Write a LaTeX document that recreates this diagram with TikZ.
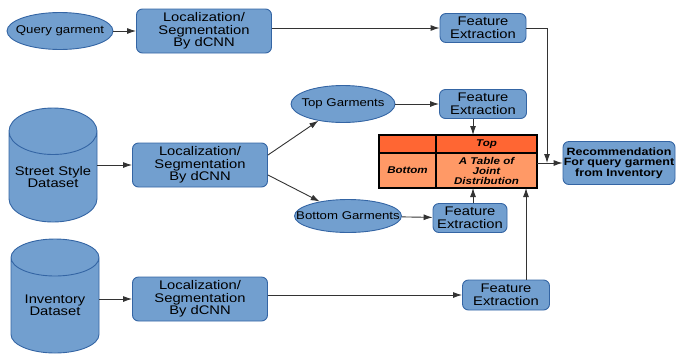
\documentclass[tikz,border=0pt]{standalone}
\usepackage{fontspec}
\setmainfont{Liberation Sans}[FakeStretch=1.18]
\definecolor{box_fill}{HTML}{729FCF}
\definecolor{box_line}{HTML}{3465A4}
\definecolor{tab_top}{HTML}{FF6633}
\definecolor{tab_low}{HTML}{FF9966}
\usetikzlibrary{arrows.meta, shapes.geometric}

\begin{document}
\begin{tikzpicture}[x=1pt, y=-1pt,
        blk/.style={rectangle, rounded corners=6pt, draw=box_line, fill=box_fill,
                    line width=0.9pt, inner sep=0pt, align=center,
                    font=\fontsize{12.5}{12.5}\selectfont},
        oval/.style={ellipse, draw=box_line, fill=box_fill, line width=0.9pt,
                     inner ysep=0pt, font=\fontsize{11.2}{12}\selectfont},
        db/.style={cylinder, shape border rotate=90, aspect=0.61, draw=box_line,
                   fill=box_fill, line width=0.9pt, inner sep=0pt, align=center,
                   minimum width=88pt, minimum height=114pt, anchor=shape center,
                   font=\fontsize{12.5}{12.5}\selectfont},
        cell/.style={rectangle, draw=black, line width=1.1pt, inner sep=0pt,
                     outer sep=0pt, align=center,
                     font=\fontsize{9.8}{10}\selectfont\bfseries\itshape},
        arr/.style={-{Latex[length=9pt, width=6pt]}, line width=0.9pt, black!80},
      ]
        \useasboundingbox (0,0) rectangle (676,354);

        % Query branch
        \node[oval, inner xsep=-7pt, minimum width=106pt, minimum height=37pt] (query) at (60,31)
          {Query garment};
        \node[blk, minimum width=135pt, minimum height=44pt] (loc1) at (204,31)
          {Localization/\\Segmentation\\By dCNN};
        \node[blk, minimum width=86pt, minimum height=29pt] (fe1) at (483,28)
          {Feature\\Extraction};

        % Street style branch
        \node[db] (street) at (53,165) {Street Style\\Dataset};
        \node[blk, minimum width=135pt, minimum height=44pt] (loc2) at (200,165)
          {Localization/\\Segmentation\\By dCNN};
        \node[oval, inner xsep=-6pt, minimum width=104pt, minimum height=37pt] (topg) at (343,104)
          {Top Garments};
        \node[oval, inner xsep=-16pt, minimum width=107pt, minimum height=33pt] (botg) at (348,216)
          {Bottom Garments};
        \node[blk, minimum width=87pt, minimum height=29pt] (fe2) at (483,104)
          {Feature\\Extraction};
        \node[blk, minimum width=74pt, minimum height=29pt] (fe3) at (470,218)
          {Feature\\Extraction};

        % Inventory branch
        \node[db] (inv) at (55,296) {Inventory\\Dataset};
        \node[blk, minimum width=135pt, minimum height=44pt] (loc3) at (200,299)
          {Localization/\\Segmentation\\By dCNN};
        \node[blk, minimum width=87pt, minimum height=30pt] (fe4) at (506,295)
          {Feature\\Extraction};

        % Joint distribution table
        \node[cell, fill=tab_top, minimum width=57pt, minimum height=18pt] (c11) at (407.5,144) {};
        \node[cell, fill=tab_top, minimum width=101pt, minimum height=18pt] (c12) at (486.5,144) {Top};
        \node[cell, fill=tab_low, minimum width=57pt, minimum height=35pt] (c21) at (407.5,170.5) {Bottom};
        \node[cell, fill=tab_low, minimum width=101pt, minimum height=35pt] (c22) at (486.5,170.5)
          {A Table of\\Joint\\Distribution};

        \node[blk, minimum width=112pt, minimum height=43pt,
              font=\fontsize{10.6}{10.7}\selectfont\bfseries] (rec) at (619,163)
          {Recommendation\\For query garment\\from Inventory};
        \coordinate (join) at (547,163);

        \draw[arr] (query) -- (loc1);
        \draw[arr] (loc1.east |- fe1) -- (fe1);
        \draw[arr] (street.east |- loc2) -- (loc2);
        \draw[arr] ([yshift=10pt]loc2.east) -- (topg);
        \draw[arr] ([yshift=-10pt]loc2.east) -- (botg);
        \draw[arr] (topg) -- (fe2);
        \draw[arr] (botg) -- (fe3);
        \draw[arr] (inv.east |- loc3) -- (loc3);
        \draw[arr] (loc3.east |- fe4) -- (fe4);

        % Into the table
        \draw[arr] ([xshift=-10pt]fe2.south) -- ([xshift=-10pt]fe2.south |- c12.north);
        \draw[arr] ([xshift=3pt]fe3.north) -- ([xshift=3pt]fe3.north |- c22.south);
        \draw[arr] ([xshift=20pt]fe4.north) -- ([xshift=20pt]fe4.north |- c22.south);

        % To the recommendation
        \draw[arr] (fe1.east) -| (join);
        \draw[arr] (c22.east |- rec) -- (rec);
      \end{tikzpicture}
\end{document}
